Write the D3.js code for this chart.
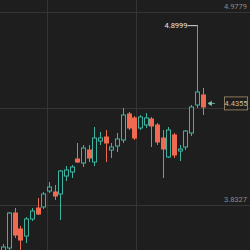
<!DOCTYPE html>
<html>
<head>
<meta charset="utf-8">
<script src="https://cdn.jsdelivr.net/npm/d3@7"></script>
<style>
  html, body { margin: 0; padding: 0; background: #1e1e1e; overflow: hidden; }
  svg { display: block; }
</style>
</head>
<body>
<svg id="mainFrame"></svg>
<script>
const width = 250;
const height = 250;

// candle values, oldest first
const opens  = [3.5360, 3.5775, 3.7852, 3.6903, 3.6487, 3.7496, 3.8149, 3.8208, 3.9158, 3.9098,
                3.8980, 4.0048, 4.0285, 4.1056, 4.0819, 4.1590, 4.0878, 4.2124, 4.2362, 4.1590,
                4.1828, 4.2184, 4.3727, 4.3489, 4.2896, 4.3074, 4.3430, 4.3074, 4.2302, 4.1175,
                4.2481, 4.1531, 4.1768, 4.2599, 4.4261, 4.4854];
const highs  = [3.6013, 3.7912, 3.8149, 3.7081, 3.7615, 3.8149, 3.8742, 3.9098, 3.9692, 3.9514,
                4.0404, 4.0641, 4.0700, 4.2006, 4.1887, 4.1887, 4.2955, 4.2659, 4.2777, 4.2006,
                4.2599, 4.4083, 4.3845, 4.3608, 4.3667, 4.3786, 4.3549, 4.3193, 4.2777, 4.2955,
                4.2599, 4.1887, 4.2777, 4.4261, 4.8999, 4.5269];
const lows   = [3.5182, 3.5657, 3.6369, 3.5657, 3.6072, 3.7378, 3.7734, 3.8090, 3.9039, 3.8624,
                3.7437, 3.9751, 3.9929, 4.0819, 4.0582, 4.0878, 4.0641, 4.1887, 4.0878, 4.1116,
                4.1472, 4.2006, 4.2777, 4.2184, 4.2777, 4.2896, 4.1768, 4.1887, 3.9929, 4.1116,
                4.1116, 4.0938, 4.1590, 4.2421, 4.4083, 4.3667];
const closes = [3.5835, 3.7852, 3.6547, 3.6250, 3.7496, 3.7971, 3.7793, 3.8980, 3.9395, 3.8861,
                4.0344, 4.0404, 4.0582, 4.0878, 4.1709, 4.1116, 4.2302, 4.2302, 4.2006, 4.1768,
                4.2243, 4.3667, 4.2896, 4.2302, 4.3549, 4.3489, 4.3015, 4.2065, 4.1650, 4.2777,
                4.1294, 4.1650, 4.2718, 4.4142, 4.5032, 4.4142];

const gridValues = [4.9779, 4.4053, 3.8327];
const axisLabels = ["4.9779", "3.8327"];
const timeGrid = [7.7, 23.25];   // vertical grid, in candle index units
const highLabel = "4.8999";
const lastPrice = 4.4355;
const lastLabel = "4.4355";

const up = "#3fb39f";
const down = "#ef6a51";

const data = opens.map((o, i) => ({ i: i, o: o, h: highs[i], l: lows[i], c: closes[i] }));

const x = d3.scaleLinear()
    .domain([0, data.length - 1])
    .range([3.4, 202.5]);

const y = d3.scaleLinear()
    .domain([3.8327, 4.9779])
    .range([205, 12]);

const bw = 4;

const svg = d3.select("#mainFrame")
    .attr("width", width)
    .attr("height", height)
    .attr("font-family", "Roboto, sans-serif");

svg.append("rect")
    .attr("width", width)
    .attr("height", height)
    .attr("fill", "#1e1e1e");

// grid
svg.selectAll("line.hgrid")
    .data(gridValues)
    .join("line")
    .attr("class", "hgrid")
    .attr("x1", 0)
    .attr("x2", width)
    .attr("y1", d => Math.round(y(d)) + 0.5)
    .attr("y2", d => Math.round(y(d)) + 0.5)
    .attr("stroke", "#353535");

svg.selectAll("line.vgrid")
    .data(timeGrid)
    .join("line")
    .attr("class", "vgrid")
    .attr("x1", d => Math.round(x(d)) + 0.5)
    .attr("x2", d => Math.round(x(d)) + 0.5)
    .attr("y1", 0)
    .attr("y2", height)
    .attr("stroke", "#353535");

// axis labels
svg.selectAll("text.ylab")
    .data(axisLabels)
    .join("text")
    .attr("class", "ylab")
    .attr("x", 247)
    .attr("y", d => y(+d) - 3)
    .attr("text-anchor", "end")
    .attr("font-size", 7.5)
    .attr("fill", "#8a8a8a")
    .text(d => d);

// candles
const candle = svg.selectAll("g.candle")
    .data(data)
    .join("g")
    .attr("class", "candle")
    .attr("transform", d => `translate(${Math.round(x(d.i)) + 0.5},0)`);

candle.append("line")
    .attr("y1", d => y(d.h))
    .attr("y2", d => y(Math.max(d.o, d.c)))
    .attr("stroke", d => d.c >= d.o ? up : down);

candle.append("line")
    .attr("y1", d => y(Math.min(d.o, d.c)))
    .attr("y2", d => y(d.l))
    .attr("stroke", d => d.c >= d.o ? up : down);

candle.append("rect")
    .attr("x", -bw / 2)
    .attr("y", d => y(Math.max(d.o, d.c)))
    .attr("width", bw)
    .attr("height", d => Math.max(1, Math.abs(y(d.o) - y(d.c))))
    .attr("fill", d => d.c >= d.o ? "#1e1e1e" : down)
    .attr("stroke", d => d.c >= d.o ? up : down)
    .attr("stroke-width", 1);

// highest price marker
const hi = data.reduce((a, b) => (b.h > a.h ? b : a));
const hx = Math.round(x(hi.i)) + 0.5;
svg.append("line")
    .attr("x1", hx - 10)
    .attr("x2", hx)
    .attr("y1", y(hi.h) + 0.5)
    .attr("y2", y(hi.h) + 0.5)
    .attr("stroke", "#d8d8d8");
svg.append("text")
    .attr("x", hx - 10)
    .attr("y", y(hi.h))
    .attr("dy", "0.35em")
    .attr("text-anchor", "end")
    .attr("font-size", 7.5)
    .attr("fill", "#e6e6e6")
    .text(highLabel);

// last price marker
const ly = y(lastPrice);
const lx = Math.round(x(data.length - 1)) + 5;
svg.append("path")
    .attr("d", `M${lx},${ly} l3.5,-2 v4 z M${lx + 3},${ly} h4`)
    .attr("fill", "#7fc2b2")
    .attr("stroke", "#7fc2b2")
    .attr("stroke-width", 0.8);

svg.append("rect")
    .attr("x", 224.5)
    .attr("y", ly - 6.5)
    .attr("width", 23)
    .attr("height", 13)
    .attr("fill", "#1e1e1e")
    .attr("stroke", "#8c7b58");
svg.append("text")
    .attr("x", 236)
    .attr("y", ly)
    .attr("dy", "0.35em")
    .attr("text-anchor", "middle")
    .attr("font-size", 7.5)
    .attr("fill", "#cdbd9c")
    .text(lastLabel);
</script>
</body>
</html>
